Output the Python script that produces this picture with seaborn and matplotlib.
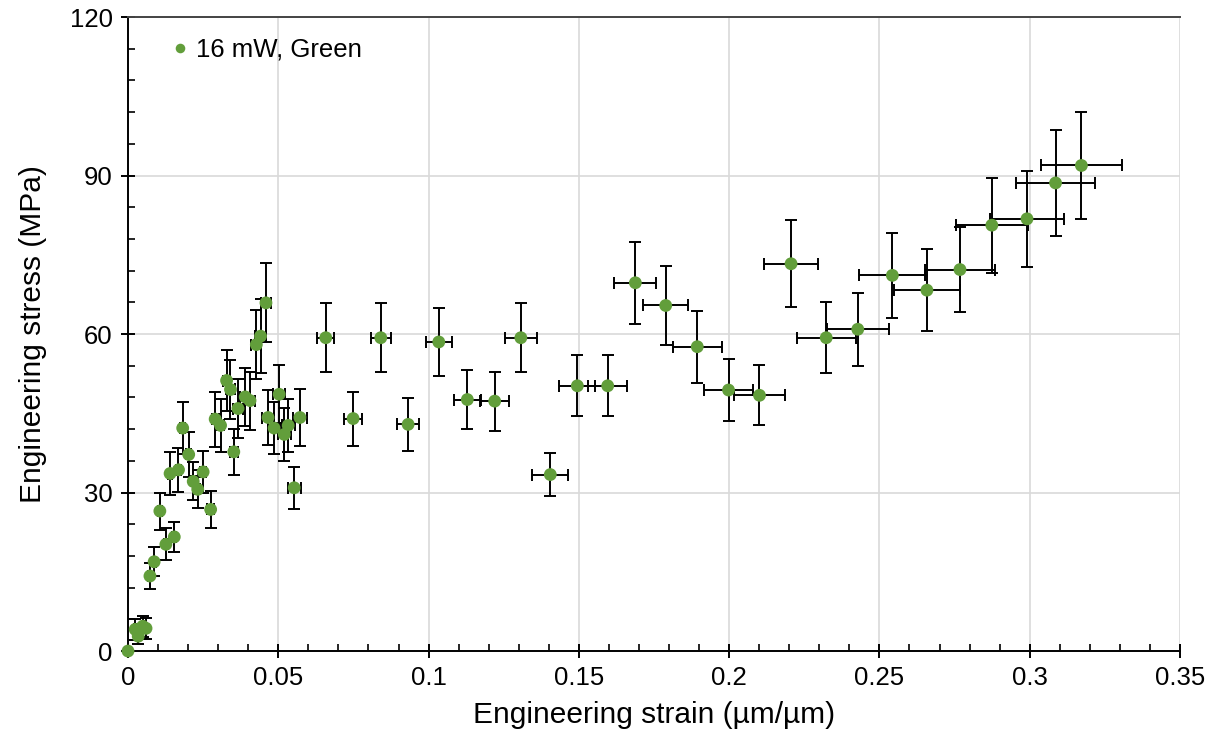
import matplotlib
matplotlib.use('Agg')
import matplotlib.pyplot as plt
from matplotlib.ticker import MultipleLocator, FuncFormatter
import numpy as np
import pandas as pd
import seaborn as sns

# Engineering strain (um/um) and stress (MPa)
strain = [0.0000, 0.0024, 0.0034, 0.0049, 0.0060, 0.0073, 0.0087, 0.0106, 0.0126, 0.0154,
          0.0140, 0.0168, 0.0182, 0.0202, 0.0217, 0.0232, 0.0250, 0.0275, 0.0290, 0.0308,
          0.0328, 0.0341, 0.0352, 0.0366, 0.0390, 0.0406, 0.0427, 0.0441, 0.0459, 0.0466,
          0.0486, 0.0503, 0.0520, 0.0533, 0.0553, 0.0572, 0.0658, 0.0749, 0.0841, 0.0932,
          0.1034, 0.1129, 0.1220, 0.1307, 0.1405, 0.1495, 0.1596, 0.1688, 0.1789, 0.1894,
          0.1998, 0.2101, 0.2206, 0.2323, 0.2428, 0.2543, 0.2658, 0.2768, 0.2874, 0.2991,
          0.3086, 0.3172]
stress = [0.0, 4.1, 2.8, 4.7, 4.3, 14.2, 16.9, 26.5, 20.2, 21.6,
          33.6, 34.3, 42.2, 37.2, 32.1, 30.6, 33.9, 26.8, 43.9, 42.7,
          51.2, 49.5, 37.7, 45.9, 48.1, 47.4, 58.0, 59.6, 65.9, 44.2,
          42.2, 48.6, 41.0, 42.7, 30.9, 44.2, 59.3, 44.0, 59.3, 42.9,
          58.5, 47.6, 47.3, 59.3, 33.4, 50.2, 50.2, 69.7, 65.4, 57.6,
          49.4, 48.4, 73.3, 59.3, 60.9, 71.1, 68.3, 72.2, 80.6, 81.8,
          88.6, 91.9]
strain_err = [0.0, 0.0003, 0.0003, 0.0004, 0.0004, 0.0005, 0.0005, 0.0006, 0.0006, 0.0007,
              0.0006, 0.0007, 0.0008, 0.0008, 0.0009, 0.0009, 0.0010, 0.0011, 0.0012, 0.0012,
              0.0013, 0.0014, 0.0014, 0.0015, 0.0016, 0.0016, 0.0017, 0.0018, 0.0018, 0.0019,
              0.0019, 0.0020, 0.0021, 0.0021, 0.0022, 0.0023, 0.0028, 0.0030, 0.0034, 0.0037,
              0.0043, 0.0045, 0.0049, 0.0054, 0.0060, 0.0060, 0.0064, 0.0070, 0.0075, 0.0081,
              0.0083, 0.0086, 0.0091, 0.0098, 0.0104, 0.0110, 0.0111, 0.0117, 0.0120, 0.0124,
              0.0130, 0.0134]
stress_err = [0.0, 2.0, 1.5, 2.0, 2.0, 2.5, 2.7, 3.5, 3.0, 2.9,
              4.0, 4.2, 5.0, 4.2, 3.6, 3.6, 4.0, 3.5, 5.2, 5.0,
              5.7, 5.5, 4.4, 5.5, 5.5, 5.5, 6.5, 7.0, 7.5, 5.2,
              5.0, 5.5, 5.0, 5.0, 4.0, 5.3, 6.5, 5.1, 6.5, 5.0,
              6.5, 5.6, 5.6, 6.5, 4.0, 5.8, 5.8, 7.8, 7.5, 6.8,
              5.8, 5.7, 8.2, 6.7, 6.9, 8.0, 7.8, 8.1, 9.0, 9.1,
              10.0, 10.2]
series_name = '16 mW, Green'

df = pd.DataFrame({'strain': strain, 'stress': stress,
                   'xerr': strain_err, 'yerr': stress_err, 'series': series_name})

sns.set_theme(style='white')
plt.rcParams['font.family'] = ['Liberation Sans', 'DejaVu Sans']
plt.rcParams['text.color'] = 'black'
plt.rcParams['axes.labelcolor'] = 'black'

fig = plt.figure(figsize=(12.19, 7.46), dpi=100)
ax = fig.add_axes([0.105, 0.1273, 0.863, 0.8499])

green = '#629e3b'
ax.errorbar(df['strain'], df['stress'], xerr=df['xerr'], yerr=df['yerr'], fmt='none',
            ecolor='black', elinewidth=1.4, capsize=4, capthick=1.4, zorder=2)
sns.scatterplot(data=df, x='strain', y='stress', hue='series', palette=[green],
                s=85, edgecolor='none', ax=ax, zorder=3, clip_on=False)

ax.set_xlim(0, 0.35)
ax.set_ylim(0, 120)
ax.xaxis.set_major_locator(MultipleLocator(0.05))
ax.xaxis.set_minor_locator(MultipleLocator(0.01))
ax.yaxis.set_major_locator(MultipleLocator(30))
ax.yaxis.set_minor_locator(MultipleLocator(6))
ax.xaxis.set_major_formatter(FuncFormatter(lambda v, p: '0' if v == 0 else ('%g' % round(v, 2))))

ax.grid(True, which='major', color='#d9d9d9', linewidth=1.2, zorder=0)
ax.set_axisbelow(True)
ax.spines['right'].set_visible(False)
for side in ['left', 'bottom', 'top']:
    ax.spines[side].set_color('black')
    ax.spines[side].set_linewidth(1.4)
ax.spines['top'].set_color('#444444')

ax.tick_params(which='major', direction='inout', length=10, width=1.4, colors='black',
               labelsize=18.5, pad=6)
ax.tick_params(which='minor', direction='in', length=5, width=1.2, colors='black')
ax.tick_params(axis='x', which='both', top=False, bottom=True)
ax.tick_params(axis='y', which='both', left=True, right=False)

ax.set_xlabel('Engineering strain (µm/µm)', fontsize=21.5, labelpad=8)
ax.set_ylabel('Engineering stress (MPa)', fontsize=21.5, labelpad=16)

leg = ax.legend(loc='upper left', bbox_to_anchor=(0.018, 1.0), frameon=False, fontsize=18.5,
                handletextpad=0.1, markerscale=0.75, borderaxespad=0.4, handlelength=1.0)

fig.savefig('out.png', dpi=100)
plt.close()
